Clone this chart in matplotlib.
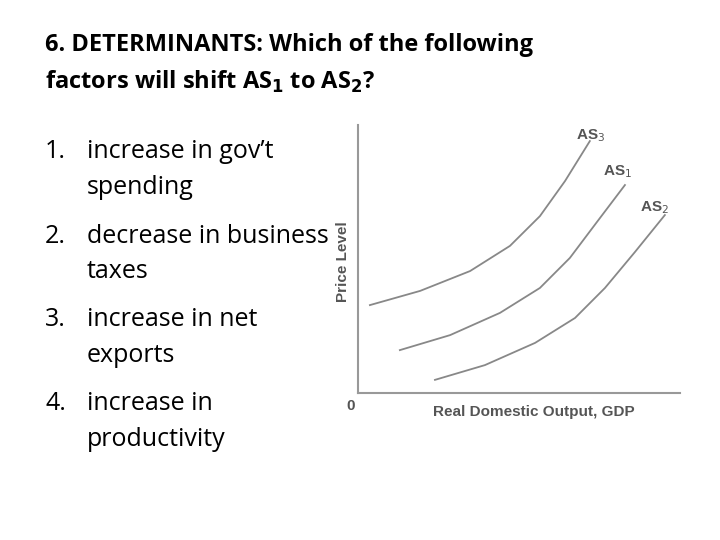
import matplotlib
matplotlib.use("Agg")
import matplotlib.pyplot as plt

title_lines = ["6. DETERMINANTS: Which of the following",
               r"factors will shift AS$_\mathbf{1}$ to AS$_\mathbf{2}$?"]
list_nums = ["1.", "2.", "3.", "4."]
list_lines = [["increase in gov\u2019t", "spending"],
              ["decrease in business", "taxes"],
              ["increase in net", "exports"],
              ["increase in", "productivity"]]

as3_x = [3.7, 19.3, 34.8, 47.2, 56.5, 64.3, 72.0]
as3_y = [32.8, 38.1, 45.5, 54.9, 66.0, 79.1, 94.0]
as1_x = [13.0, 28.6, 44.1, 56.5, 65.8, 74.2, 82.9]
as1_y = [16.0, 21.6, 29.9, 39.2, 50.4, 63.8, 77.6]
as2_x = [23.9, 39.4, 55.0, 67.4, 76.7, 86.0, 95.3]
as2_y = [4.9, 10.4, 18.7, 28.0, 39.2, 52.6, 66.4]

W, H = 720, 540
fig = plt.figure(figsize=(7.2, 5.4), dpi=100)
fam = ["Open Sans", "DejaVu Sans"]
def T(px, py, s, **kw):
    fig.text(px / W, 1 - py / H, s, family=fam, **kw)

T(45, 45, title_lines[0], fontsize=17, weight="bold", va="center")
T(45, 82, title_lines[1], fontsize=17, weight="bold", va="center")
ys = [152, 187, 236, 271, 320, 355, 404, 440]
for i, (n, lines) in enumerate(zip(list_nums, list_lines)):
    T(45, ys[2 * i], n, fontsize=18, va="center")
    T(87, ys[2 * i], lines[0], fontsize=18, va="center")
    T(87, ys[2 * i + 1], lines[1], fontsize=18, va="center")

ax = fig.add_axes([358 / W, 1 - 393 / H, (680 - 358) / W, (393 - 125) / H])
ax.set_xlim(0, 100); ax.set_ylim(0, 100)
for s in ["top", "right"]:
    ax.spines[s].set_visible(False)
for s in ["left", "bottom"]:
    ax.spines[s].set_color("#999999"); ax.spines[s].set_linewidth(1.5)
ax.set_xticks([]); ax.set_yticks([])
lc = "#888888"
for x, y in [(as3_x, as3_y), (as1_x, as1_y), (as2_x, as2_y)]:
    ax.plot(x, y, color=lc, lw=1.3)
tc = "#555555"
fam2 = ["Liberation Sans", "DejaVu Sans"]
def T2(px, py, s, **kw):
    fig.text(px / W, 1 - py / H, s, family=fam2, weight="bold", color=tc, **kw)
T2(576, 136, r"AS$_3$", fontsize=11, va="center")
T2(603, 172, r"AS$_1$", fontsize=11, va="center")
T2(640, 208, r"AS$_2$", fontsize=11, va="center")
T2(343, 262, "Price Level", fontsize=11, rotation=90, ha="center", va="center")
T2(351, 406, "0", fontsize=11, ha="center", va="center")
T2(534, 412, "Real Domestic Output, GDP", fontsize=11, ha="center", va="center")

fig.savefig("out.png", dpi=100)
